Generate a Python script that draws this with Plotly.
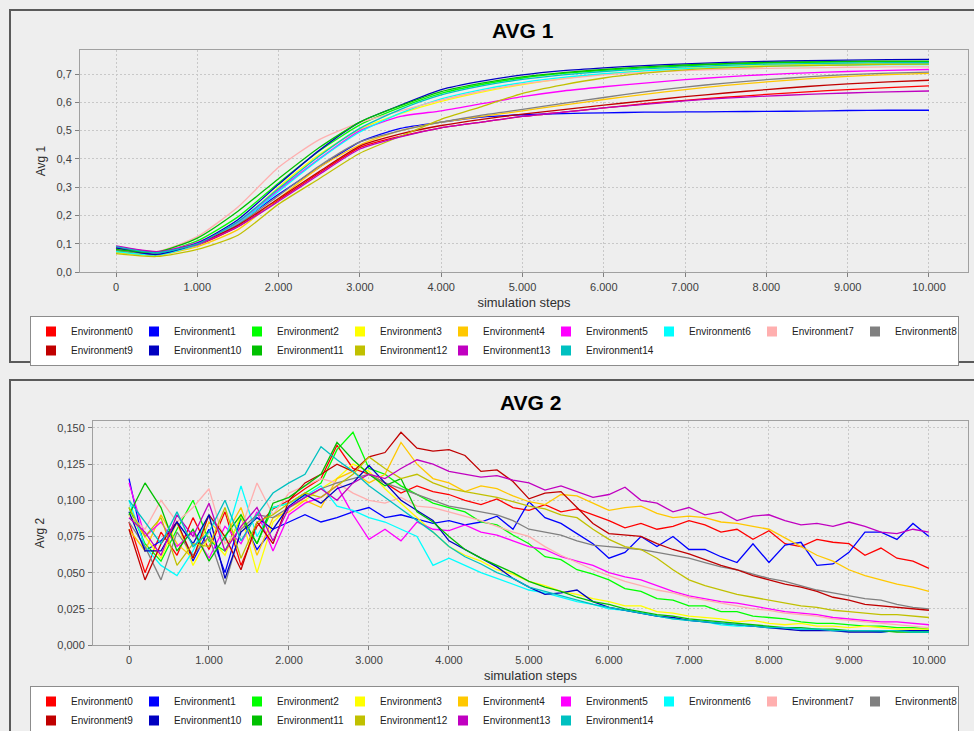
import plotly.graph_objects as go

# ---------------- data ----------------
env_names = [f"Environment{i}" for i in range(15)]
env_colors = ["#FF0000", "#0000FF", "#00FF00", "#FFFF00", "#FFC800",
              "#FF00FF", "#00FFFF", "#FFAFAF", "#808080", "#C00000",
              "#0000C0", "#00C000", "#C0C000", "#C000C0", "#00C0C0"]

steps_avg1 = list(range(0, 10001, 500))
steps_avg2 = list(range(0, 10001, 200))

x_ticks = list(range(0, 10001, 1000))
avg1_ticks = [0.0, 0.1, 0.2, 0.3, 0.4, 0.5, 0.6, 0.7]
avg2_ticks = [0.0, 0.025, 0.05, 0.075, 0.1, 0.125, 0.15]

# Avg 1 per environment, sampled every 500 steps
avg1_env0 = [0.075, 0.065, 0.095, 0.160, 0.255, 0.350, 0.440, 0.480, 0.510, 0.530, 0.550,
             0.565, 0.580, 0.595, 0.607, 0.618, 0.628, 0.637, 0.645, 0.652, 0.658]
avg1_env1 = [0.080, 0.062, 0.100, 0.175, 0.275, 0.370, 0.460, 0.508, 0.530, 0.548, 0.556,
             0.560, 0.563, 0.565, 0.566, 0.567, 0.568, 0.569, 0.571, 0.572, 0.572]
avg1_env2 = [0.075, 0.066, 0.110, 0.195, 0.315, 0.428, 0.520, 0.582, 0.632, 0.663, 0.686,
             0.702, 0.713, 0.722, 0.729, 0.735, 0.739, 0.741, 0.743, 0.744, 0.744]
avg1_env3 = [0.068, 0.062, 0.098, 0.172, 0.300, 0.415, 0.505, 0.560, 0.603, 0.636, 0.663,
             0.684, 0.700, 0.712, 0.721, 0.727, 0.731, 0.734, 0.736, 0.737, 0.738]
avg1_env4 = [0.070, 0.060, 0.090, 0.150, 0.260, 0.370, 0.450, 0.500, 0.530, 0.550, 0.570,
             0.590, 0.610, 0.628, 0.645, 0.660, 0.672, 0.683, 0.692, 0.698, 0.702]
avg1_env5 = [0.090, 0.072, 0.105, 0.175, 0.290, 0.400, 0.500, 0.550, 0.570, 0.595, 0.620,
             0.640, 0.655, 0.668, 0.680, 0.690, 0.698, 0.704, 0.709, 0.713, 0.716]
avg1_env6 = [0.072, 0.060, 0.096, 0.170, 0.285, 0.398, 0.495, 0.562, 0.612, 0.645, 0.670,
             0.688, 0.701, 0.711, 0.719, 0.724, 0.728, 0.730, 0.732, 0.733, 0.733]
avg1_env7 = [0.082, 0.072, 0.125, 0.230, 0.370, 0.468, 0.528, 0.570, 0.608, 0.640, 0.665,
             0.683, 0.697, 0.706, 0.712, 0.717, 0.720, 0.722, 0.724, 0.725, 0.725]
avg1_env8 = [0.078, 0.064, 0.098, 0.168, 0.270, 0.375, 0.460, 0.500, 0.530, 0.555, 0.575,
             0.596, 0.617, 0.637, 0.654, 0.668, 0.680, 0.690, 0.698, 0.703, 0.707]
avg1_env9 = [0.085, 0.070, 0.100, 0.165, 0.260, 0.355, 0.445, 0.488, 0.518, 0.540, 0.558,
             0.574, 0.590, 0.605, 0.620, 0.633, 0.645, 0.656, 0.665, 0.672, 0.678]
avg1_env10 = [0.085, 0.062, 0.102, 0.185, 0.310, 0.430, 0.530, 0.590, 0.645, 0.675, 0.697,
              0.712, 0.722, 0.730, 0.736, 0.741, 0.745, 0.747, 0.749, 0.751, 0.752]
avg1_env11 = [0.080, 0.070, 0.120, 0.215, 0.330, 0.440, 0.530, 0.588, 0.638, 0.668, 0.690,
              0.705, 0.716, 0.725, 0.732, 0.737, 0.741, 0.743, 0.745, 0.746, 0.746]
avg1_env12 = [0.065, 0.055, 0.080, 0.130, 0.240, 0.330, 0.420, 0.480, 0.540, 0.585, 0.632,
              0.662, 0.686, 0.703, 0.715, 0.722, 0.727, 0.730, 0.732, 0.734, 0.735]
avg1_env13 = [0.092, 0.072, 0.098, 0.160, 0.250, 0.345, 0.435, 0.478, 0.510, 0.530, 0.550,
              0.565, 0.580, 0.593, 0.605, 0.615, 0.622, 0.628, 0.633, 0.637, 0.640]
avg1_env14 = [0.090, 0.068, 0.100, 0.178, 0.295, 0.410, 0.508, 0.575, 0.626, 0.658, 0.681,
              0.697, 0.709, 0.718, 0.725, 0.731, 0.735, 0.737, 0.739, 0.740, 0.740]

# Avg 2 per environment, sampled every 200 steps
avg2_env0 = [0.085, 0.050, 0.078, 0.062, 0.088, 0.066, 0.092, 0.055, 0.082, 0.094,
             0.100, 0.108, 0.115, 0.138, 0.122, 0.118, 0.112, 0.105, 0.110, 0.106,
             0.104, 0.100, 0.097, 0.101, 0.095, 0.093, 0.097, 0.092, 0.094, 0.090,
             0.086, 0.081, 0.084, 0.080, 0.082, 0.086, 0.083, 0.078, 0.080, 0.073,
             0.079, 0.070, 0.068, 0.073, 0.071, 0.070, 0.062, 0.067, 0.060, 0.058, 0.053]
avg2_env1 = [0.115, 0.065, 0.072, 0.085, 0.058, 0.080, 0.050, 0.088, 0.066, 0.080,
             0.085, 0.090, 0.085, 0.088, 0.092, 0.095, 0.088, 0.090, 0.087, 0.084,
             0.086, 0.083, 0.085, 0.089, 0.080, 0.099, 0.088, 0.084, 0.077, 0.070,
             0.060, 0.064, 0.075, 0.068, 0.075, 0.066, 0.066, 0.061, 0.057, 0.070,
             0.057, 0.069, 0.071, 0.055, 0.056, 0.064, 0.078, 0.078, 0.073, 0.084, 0.075]
avg2_env2 = [0.095, 0.070, 0.058, 0.080, 0.100, 0.072, 0.065, 0.088, 0.070, 0.095,
             0.098, 0.105, 0.112, 0.135, 0.147, 0.122, 0.118, 0.110, 0.104, 0.098,
             0.095, 0.092, 0.085, 0.083, 0.076, 0.070, 0.061, 0.059, 0.052, 0.049,
             0.045, 0.039, 0.037, 0.032, 0.031, 0.027, 0.027, 0.023, 0.023, 0.020,
             0.019, 0.018, 0.016, 0.015, 0.015, 0.014, 0.013, 0.013, 0.012, 0.012, 0.011]
avg2_env3 = [0.090, 0.075, 0.060, 0.085, 0.055, 0.075, 0.062, 0.090, 0.050, 0.085,
             0.095, 0.100, 0.108, 0.115, 0.125, 0.120, 0.108, 0.098, 0.088, 0.078,
             0.068, 0.062, 0.058, 0.052, 0.049, 0.044, 0.041, 0.037, 0.035, 0.032,
             0.030, 0.027, 0.027, 0.023, 0.022, 0.020, 0.019, 0.018, 0.016, 0.017,
             0.015, 0.014, 0.015, 0.013, 0.013, 0.012, 0.013, 0.012, 0.011, 0.011, 0.011]
avg2_env4 = [0.080, 0.065, 0.090, 0.070, 0.060, 0.085, 0.075, 0.095, 0.062, 0.088,
             0.092, 0.100, 0.095, 0.115, 0.120, 0.112, 0.118, 0.140, 0.125, 0.115,
             0.112, 0.106, 0.110, 0.108, 0.103, 0.099, 0.097, 0.104, 0.103, 0.098,
             0.093, 0.095, 0.096, 0.091, 0.088, 0.089, 0.088, 0.085, 0.084, 0.082,
             0.080, 0.074, 0.068, 0.062, 0.058, 0.052, 0.048, 0.045, 0.042, 0.040, 0.037]
avg2_env5 = [0.112, 0.075, 0.085, 0.068, 0.078, 0.060, 0.082, 0.070, 0.092, 0.065,
             0.090, 0.098, 0.102, 0.110, 0.090, 0.073, 0.080, 0.072, 0.085, 0.080,
             0.079, 0.083, 0.078, 0.076, 0.072, 0.068, 0.066, 0.061, 0.058, 0.055,
             0.050, 0.047, 0.045, 0.041, 0.037, 0.034, 0.032, 0.030, 0.029, 0.027,
             0.025, 0.023, 0.022, 0.021, 0.019, 0.018, 0.017, 0.016, 0.016, 0.015, 0.014]
avg2_env6 = [0.100, 0.068, 0.055, 0.048, 0.065, 0.090, 0.072, 0.110, 0.075, 0.095,
             0.098, 0.103, 0.110, 0.096, 0.093, 0.088, 0.085, 0.080, 0.075, 0.055,
             0.060, 0.055, 0.050, 0.046, 0.042, 0.038, 0.036, 0.033, 0.030, 0.028,
             0.025, 0.024, 0.022, 0.020, 0.018, 0.017, 0.016, 0.014, 0.013, 0.013,
             0.012, 0.012, 0.011, 0.011, 0.010, 0.010, 0.010, 0.009, 0.010, 0.009, 0.009]
avg2_env7 = [0.090, 0.080, 0.100, 0.085, 0.095, 0.108, 0.070, 0.080, 0.112, 0.090,
             0.105, 0.110, 0.115, 0.112, 0.105, 0.100, 0.098, 0.102, 0.096, 0.095,
             0.092, 0.089, 0.086, 0.082, 0.078, 0.075, 0.068, 0.062, 0.057, 0.052,
             0.048, 0.044, 0.041, 0.038, 0.036, 0.033, 0.031, 0.029, 0.027, 0.025,
             0.024, 0.022, 0.021, 0.020, 0.018, 0.017, 0.016, 0.015, 0.014, 0.013, 0.012]
avg2_env8 = [0.085, 0.068, 0.045, 0.078, 0.062, 0.075, 0.042, 0.080, 0.090, 0.088,
             0.095, 0.102, 0.108, 0.112, 0.115, 0.118, 0.112, 0.108, 0.104, 0.100,
             0.096, 0.094, 0.092, 0.090, 0.086, 0.080, 0.078, 0.076, 0.072, 0.069,
             0.068, 0.067, 0.066, 0.064, 0.062, 0.060, 0.057, 0.054, 0.052, 0.049,
             0.046, 0.044, 0.041, 0.038, 0.036, 0.034, 0.032, 0.031, 0.028, 0.026, 0.025]
avg2_env9 = [0.080, 0.045, 0.070, 0.085, 0.060, 0.090, 0.075, 0.052, 0.085, 0.070,
             0.100, 0.112, 0.118, 0.125, 0.120, 0.130, 0.133, 0.147, 0.136, 0.134,
             0.135, 0.131, 0.120, 0.121, 0.113, 0.101, 0.105, 0.106, 0.095, 0.084,
             0.077, 0.076, 0.075, 0.070, 0.066, 0.063, 0.059, 0.055, 0.052, 0.048,
             0.045, 0.042, 0.040, 0.037, 0.033, 0.031, 0.028, 0.027, 0.026, 0.025, 0.024]
avg2_env10 = [0.092, 0.065, 0.065, 0.085, 0.070, 0.090, 0.046, 0.078, 0.088, 0.080,
              0.096, 0.104, 0.098, 0.108, 0.112, 0.124, 0.112, 0.100, 0.093, 0.086,
              0.072, 0.066, 0.060, 0.054, 0.046, 0.040, 0.035, 0.036, 0.038, 0.030,
              0.026, 0.024, 0.022, 0.020, 0.019, 0.017, 0.016, 0.015, 0.014, 0.013,
              0.012, 0.011, 0.010, 0.010, 0.010, 0.009, 0.009, 0.009, 0.010, 0.010, 0.010]
avg2_env11 = [0.090, 0.112, 0.095, 0.065, 0.080, 0.058, 0.075, 0.090, 0.070, 0.098,
              0.102, 0.110, 0.118, 0.140, 0.128, 0.118, 0.110, 0.115, 0.092, 0.085,
              0.075, 0.066, 0.060, 0.055, 0.050, 0.044, 0.040, 0.037, 0.033, 0.030,
              0.028, 0.025, 0.023, 0.021, 0.020, 0.018, 0.017, 0.016, 0.015, 0.014,
              0.013, 0.012, 0.012, 0.011, 0.011, 0.010, 0.010, 0.010, 0.009, 0.009, 0.009]
avg2_env12 = [0.095, 0.075, 0.088, 0.055, 0.070, 0.068, 0.095, 0.060, 0.085, 0.090,
              0.098, 0.105, 0.102, 0.110, 0.118, 0.130, 0.122, 0.115, 0.118, 0.112,
              0.108, 0.106, 0.104, 0.102, 0.099, 0.096, 0.094, 0.090, 0.088, 0.080,
              0.073, 0.068, 0.066, 0.060, 0.052, 0.045, 0.041, 0.038, 0.035, 0.033,
              0.031, 0.029, 0.027, 0.026, 0.024, 0.023, 0.022, 0.021, 0.021, 0.020, 0.019]
avg2_env13 = [0.088, 0.078, 0.062, 0.090, 0.075, 0.098, 0.065, 0.082, 0.095, 0.072,
              0.095, 0.102, 0.108, 0.100, 0.112, 0.118, 0.115, 0.122, 0.128, 0.125,
              0.120, 0.118, 0.116, 0.117, 0.114, 0.112, 0.107, 0.110, 0.106, 0.102,
              0.104, 0.109, 0.100, 0.098, 0.092, 0.095, 0.090, 0.092, 0.086, 0.089,
              0.090, 0.086, 0.083, 0.084, 0.082, 0.085, 0.082, 0.078, 0.077, 0.080, 0.078]
avg2_env14 = [0.100, 0.085, 0.070, 0.092, 0.068, 0.078, 0.100, 0.072, 0.090, 0.105,
              0.112, 0.118, 0.137, 0.128, 0.120, 0.110, 0.102, 0.094, 0.086, 0.078,
              0.068, 0.061, 0.056, 0.050, 0.046, 0.040, 0.037, 0.034, 0.031, 0.028,
              0.026, 0.024, 0.022, 0.020, 0.018, 0.017, 0.016, 0.015, 0.014, 0.013,
              0.012, 0.012, 0.011, 0.011, 0.010, 0.010, 0.010, 0.010, 0.010, 0.009, 0.009]

avg1_series = [avg1_env0, avg1_env1, avg1_env2, avg1_env3, avg1_env4, avg1_env5,
               avg1_env6, avg1_env7, avg1_env8, avg1_env9, avg1_env10, avg1_env11,
               avg1_env12, avg1_env13, avg1_env14]
avg2_series = [avg2_env0, avg2_env1, avg2_env2, avg2_env3, avg2_env4, avg2_env5,
               avg2_env6, avg2_env7, avg2_env8, avg2_env9, avg2_env10, avg2_env11,
               avg2_env12, avg2_env13, avg2_env14]

for s in avg1_series:
    assert len(s) == len(steps_avg1)
for s in avg2_series:
    assert len(s) == len(steps_avg2)

# ---------------- page geometry (pixels) ----------------
W, H = 974, 731


def px_x(v):
    return v / W


def px_y(v):
    return 1 - v / H


FONT = "Liberation Sans, Arial, sans-serif"

fig = go.Figure()

for i, name in enumerate(env_names):
    fig.add_trace(go.Scatter(
        x=steps_avg1, y=avg1_series[i], mode="lines", name=name,
        line=dict(color=env_colors[i], width=1.3, shape="spline", smoothing=0.6),
        xaxis="x", yaxis="y", showlegend=False))
for i, name in enumerate(env_names):
    fig.add_trace(go.Scatter(
        x=steps_avg2, y=avg2_series[i], mode="lines", name=name,
        line=dict(color=env_colors[i], width=1.3),
        xaxis="x2", yaxis="y2", showlegend=False))

# square swatches for the two legends
for lg, xa, ya in (("legend", "x", "y"), ("legend2", "x2", "y2")):
    for i, name in enumerate(env_names):
        fig.add_trace(go.Scatter(
            x=[None], y=[None], mode="markers", name=name,
            marker=dict(symbol="square", size=10, color=env_colors[i]),
            xaxis=xa, yaxis=ya, legend=lg,
            showlegend=True, hoverinfo="skip"))

axis_common = dict(
    showgrid=True, gridcolor="#C8C8C8", griddash="2px,2px", gridwidth=1,
    zeroline=False, showline=True, linecolor="#A0A0A0", linewidth=1, mirror=True,
    ticks="outside", ticklen=4, tickcolor="#808080", ticklabelstandoff=1,
    tickfont=dict(family=FONT, size=11, color="#404040"),
    automargin=False,
)
title_font = dict(family=FONT, size=13, color="#303030")

legend_common = dict(
    orientation="h", xanchor="left", yanchor="top", bgcolor="white",
    bordercolor="#8C8C8C", borderwidth=1, entrywidth=58, entrywidthmode="pixels",
    font=dict(family=FONT, size=10, color="#202020"), tracegroupgap=0,
)

fig.update_layout(
    width=W, height=H, margin=dict(l=0, r=0, t=0, b=0, autoexpand=False),
    paper_bgcolor="#EEEEEE", plot_bgcolor="white",
    separators=",.",
    xaxis=dict(axis_common, domain=[px_x(80), px_x(968)], anchor="y",
               range=[-443, 10480], tickvals=x_ticks, tickformat=",d",
               title=dict(text="simulation steps", standoff=5, font=title_font)),
    yaxis=dict(axis_common, domain=[px_y(272), px_y(50)], anchor="x",
               range=[0, 0.785], tickvals=avg1_ticks, tickformat=".1f",
               title=dict(text="Avg 1", standoff=8, font=dict(title_font, size=12))),
    xaxis2=dict(axis_common, domain=[px_x(93), px_x(968)], anchor="y2",
                range=[-450, 10488], tickvals=x_ticks, tickformat=",d",
                title=dict(text="simulation steps", standoff=5, font=title_font)),
    yaxis2=dict(axis_common, domain=[px_y(645), px_y(421)], anchor="x2",
                range=[0, 0.1548], tickvals=avg2_ticks, tickformat=".3f",
                title=dict(text="Avg 2", standoff=10, font=dict(title_font, size=12))),
    legend=dict(legend_common, x=px_x(30), y=px_y(316)),
    legend2=dict(legend_common, x=px_x(30), y=px_y(686)),
    showlegend=True,
    annotations=[
        dict(text="<b>AVG 1</b>", x=px_x(523), y=px_y(30), xref="paper", yref="paper",
             xanchor="center", yanchor="middle", showarrow=False,
             font=dict(family=FONT, size=21, color="#000000")),
        dict(text="<b>AVG 2</b>", x=px_x(530), y=px_y(402), xref="paper", yref="paper",
             xanchor="center", yanchor="middle", showarrow=False,
             font=dict(family=FONT, size=21, color="#000000")),
    ],
    shapes=[
        dict(type="rect", xref="paper", yref="paper", layer="below",
             x0=px_x(10), x1=1.02, y0=px_y(362), y1=px_y(10),
             line=dict(color="#5A5A5A", width=2), fillcolor="#EEEEEE"),
        dict(type="rect", xref="paper", yref="paper", layer="below",
             x0=px_x(10), x1=1.02, y0=-0.02, y1=px_y(380),
             line=dict(color="#5A5A5A", width=2), fillcolor="#EEEEEE"),
    ],
)

fig.write_html("out.html")
